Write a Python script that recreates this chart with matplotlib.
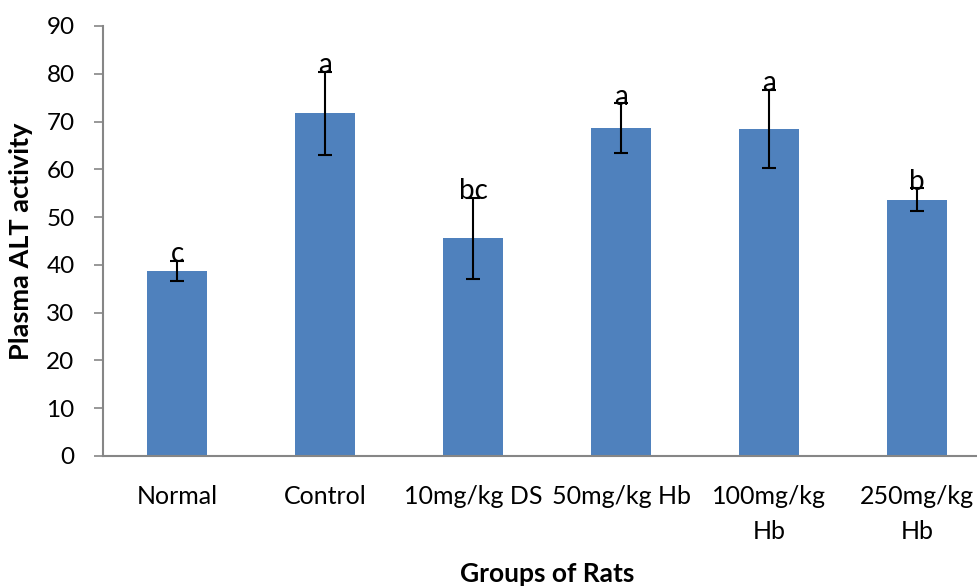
import matplotlib

matplotlib.use("Agg")
import matplotlib.pyplot as plt  # noqa: E402

groups = ["Normal", "Control", "10mg/kg DS", "50mg/kg Hb", "100mg/kg\nHb", "250mg/kg\nHb"]
alt_mean = [38.7, 71.7, 45.6, 68.6, 68.5, 53.6]
alt_err = [2.1, 8.7, 8.5, 5.2, 8.2, 2.4]
letters = ["c", "a", "bc", "a", "a", "b"]

BAR = "#4F81BD"
AXIS = "#868686"

plt.rcParams["font.family"] = ["Lato", "DejaVu Sans"]

fig = plt.figure(figsize=(9.77, 5.88), dpi=100)
ax = fig.add_axes([103 / 977, 132 / 588, 1 - 103 / 977, 430 / 588])

x = list(range(len(groups)))
ax.bar(x, alt_mean, width=0.4, color=BAR, zorder=2)
ax.errorbar(x, alt_mean, yerr=alt_err, fmt="none", ecolor="black",
            elinewidth=1.5, capsize=4.7, capthick=1.5, zorder=3)

# significance letters sit right on top of the error bar
for xi, m, e, lab in zip(x, alt_mean, alt_err, letters):
    ax.text(xi, m + e - 0.3, lab, ha="center", va="baseline", fontsize=20)

ax.set_xlim(-0.5, 5.405)
ax.set_ylim(0, 90)
ax.set_yticks(range(0, 91, 10))
ax.tick_params(axis="y", direction="out", length=6.5, width=1.2, color=AXIS,
               labelsize=17.5, pad=14)
ax.set_xticks(x)
ax.set_xticklabels(groups, fontsize=18, linespacing=1.6)
ax.tick_params(axis="x", length=0, pad=21)

for side in ("top", "right"):
    ax.spines[side].set_visible(False)
for side in ("left", "bottom"):
    ax.spines[side].set_color(AXIS)
    ax.spines[side].set_linewidth(1.5)

ax.set_ylabel("Plasma ALT activity", fontsize=19.5, fontweight="bold")
ax.yaxis.set_label_coords(-70 / 874, 0.5)
fig.text(0.560, 0.004, "Groups of Rats", ha="center", va="bottom",
         fontsize=19, fontweight="bold")

fig.savefig("out.png", dpi=100)
